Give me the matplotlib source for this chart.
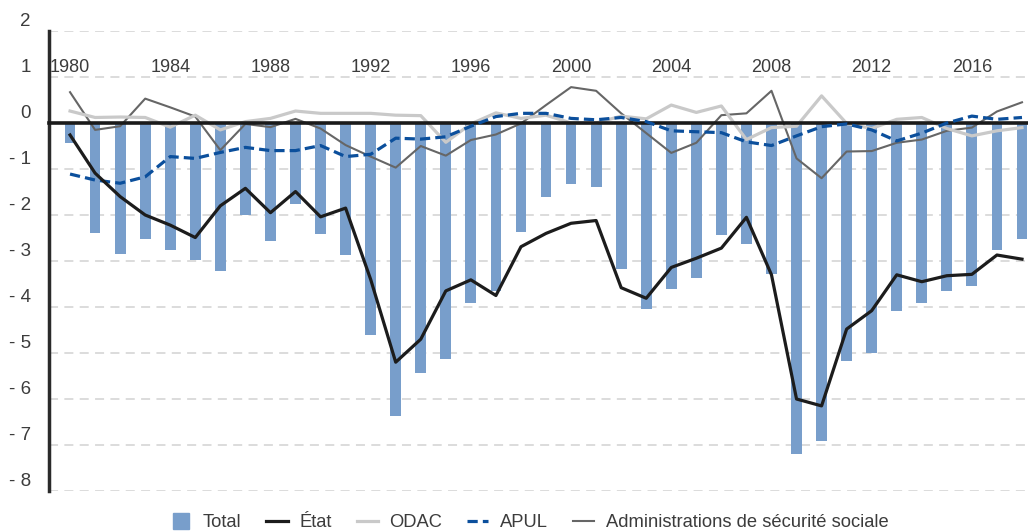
import matplotlib
matplotlib.use("Agg")
import matplotlib.pyplot as plt
import matplotlib.transforms as mtransforms
from matplotlib.ticker import FixedLocator, FuncFormatter
from matplotlib.lines import Line2D
import numpy as np

years = list(range(1980, 2019))

total = [-0.43, -2.40, -2.84, -2.53, -2.75, -2.98, -3.21, -2.01, -2.56, -1.77,
         -2.42, -2.86, -4.60, -6.36, -5.43, -5.12, -3.91, -3.65, -2.38, -1.60,
         -1.32, -1.39, -3.17, -4.04, -3.60, -3.36, -2.44, -2.64, -3.28, -7.19,
         -6.91, -5.17, -5.00, -4.08, -3.91, -3.65, -3.54, -2.77, -2.53]

etat = [-0.26, -1.09, -1.60, -2.00, -2.22, -2.49, -1.80, -1.42, -1.95, -1.49,
        -2.04, -1.85, -3.40, -5.20, -4.70, -3.65, -3.41, -3.75, -2.69, -2.40,
        -2.18, -2.12, -3.58, -3.81, -3.14, -2.94, -2.72, -2.05, -3.30, -6.00,
        -6.15, -4.48, -4.08, -3.30, -3.45, -3.32, -3.29, -2.87, -2.96]

odac = [0.26, 0.12, 0.13, 0.12, -0.09, 0.17, -0.15, 0.03, 0.10, 0.26,
        0.21, 0.21, 0.21, 0.17, 0.16, -0.42, -0.02, 0.22, 0.10, 0.17,
        0.00, 0.00, 0.15, 0.09, 0.39, 0.23, 0.37, -0.36, -0.10, -0.07,
        0.59, -0.01, -0.12, 0.08, 0.12, -0.12, -0.28, -0.17, -0.10]

apul = [-1.11, -1.24, -1.31, -1.17, -0.73, -0.77, -0.64, -0.53, -0.60, -0.60,
        -0.49, -0.73, -0.68, -0.33, -0.35, -0.30, -0.07, 0.14, 0.21, 0.21,
        0.10, 0.07, 0.12, 0.03, -0.17, -0.19, -0.21, -0.41, -0.49, -0.28,
        -0.08, -0.02, -0.15, -0.39, -0.22, 0.00, 0.15, 0.08, 0.12]

asso = [0.67, -0.15, -0.07, 0.53, 0.34, 0.14, -0.59, -0.02, -0.09, 0.09,
        -0.12, -0.48, -0.73, -0.97, -0.50, -0.71, -0.37, -0.25, -0.01, 0.39,
        0.78, 0.70, 0.21, -0.22, -0.65, -0.43, 0.17, 0.21, 0.70, -0.77,
        -1.20, -0.62, -0.61, -0.43, -0.36, -0.17, -0.10, 0.25, 0.45]

year_labels = [1980, 1984, 1988, 1992, 1996, 2000, 2004, 2008, 2012, 2016]
y_ticks = [2, 1, 0, -1, -2, -3, -4, -5, -6, -7, -8]
legend_labels = ["Total", "État", "ODAC", "APUL", "Administrations de sécurité sociale"]

plt.rcParams['font.family'] = ['Liberation Sans', 'DejaVu Sans']
TXT = "#3c3c3c"
BAR = "#789ecb"
C_ETAT = "#1c1c1c"
C_ODAC = "#c9c9c9"
C_APUL = "#0b4f9c"
C_ASSO = "#666666"

fig = plt.figure(figsize=(10.28, 5.32), dpi=100)
ax = fig.add_axes([49/1028, 1 - 491/532, 1 - 49/1028, (491 - 31)/532])

x = np.arange(len(years))
ax.bar(x, total, width=0.43, color=BAR, zorder=2)
ax.plot(x, asso, color=C_ASSO, lw=1.5, zorder=3)
ax.plot(x, odac, color=C_ODAC, lw=2.3, zorder=3)
ax.plot(x, apul, color=C_APUL, lw=2.3, ls=(0, (3.2, 1.6)), zorder=4)
ax.plot(x, etat, color=C_ETAT, lw=2.3, zorder=5)

ax.set_xlim(-0.84, 38.24)
ax.set_ylim(-8, 2)

# grid
for v in y_ticks:
    if v != 0:
        ax.axhline(v, color="#d9d9d9", lw=1.3, ls=(0, (5, 3.5)), zorder=1)

for s in ["top", "right"]:
    ax.spines[s].set_visible(False)
ax.spines["left"].set_color("#2a2a2a")
ax.spines["left"].set_linewidth(2.5)
ax.spines["bottom"].set_position(("data", 0))
ax.spines["bottom"].set_color("#1a1a1a")
ax.spines["bottom"].set_linewidth(2.6)
ax.spines["bottom"].set_zorder(3.5)

ax.set_xticks(x)
ax.tick_params(axis="x", direction="out", length=8, width=2, color="#1a1a1a", labelbottom=False)

ax.yaxis.set_major_locator(FixedLocator(y_ticks))
ax.yaxis.set_major_formatter(FuncFormatter(lambda v, p: f"- {abs(int(v))}" if v < 0 else f"{int(v)}"))
ax.tick_params(axis="y", length=0, pad=13, labelsize=13.5, labelcolor=TXT)
offset = mtransforms.ScaledTranslation(0, 11/100, fig.dpi_scale_trans)
for lab in ax.get_yticklabels():
    lab.set_transform(lab.get_transform() + offset)

for yr in year_labels:
    ax.text(years.index(yr), 1.2, str(yr), ha="center", va="center",
            fontsize=13, color=TXT, zorder=6)

handles = [
    Line2D([], [], color=BAR, marker="s", markersize=11, ls="none"),
    Line2D([], [], color=C_ETAT, lw=2.3),
    Line2D([], [], color=C_ODAC, lw=2.3),
    Line2D([], [], color=C_APUL, lw=2.3, ls=(0, (3.2, 1.6))),
    Line2D([], [], color=C_ASSO, lw=1.5),
]
fig.legend(handles, legend_labels, loc="lower center", bbox_to_anchor=(0.515, -0.03),
           ncol=5, frameon=False, fontsize=13.2, labelcolor=TXT,
           handlelength=1.15, handletextpad=0.65, columnspacing=1.35)

fig.savefig("out.png", dpi=100)
